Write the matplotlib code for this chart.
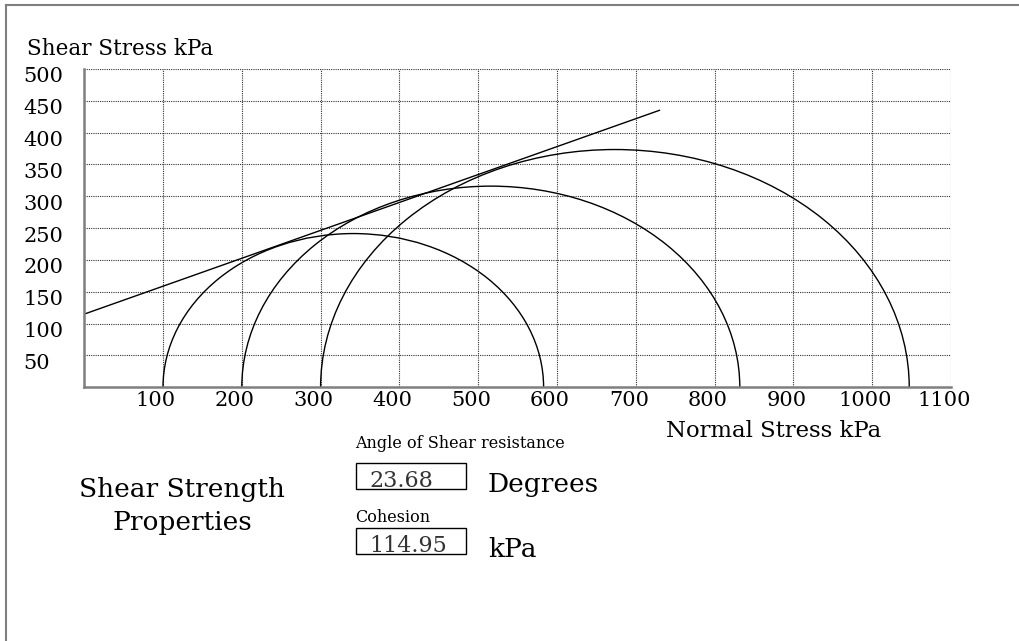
import numpy as np
import matplotlib
matplotlib.use("Agg")
import matplotlib.pyplot as plt
from matplotlib.patches import Arc, Rectangle
from matplotlib.transforms import ScaledTranslation

# Triaxial test results (kPa)
sigma3 = [100, 200, 300]          # confining stress
sigma1 = [583, 832, 1047]         # major principal stress at failure

# Fitted Mohr-Coulomb envelope
phi_deg = 23.68                   # angle of shear resistance
cohesion = 114.95                 # kPa
envelope_end = 730                # normal stress where the envelope line stops

x_ticks = [100, 200, 300, 400, 500, 600, 700, 800, 900, 1000, 1100]
y_ticks = [50, 100, 150, 200, 250, 300, 350, 400, 450, 500]

W, H, DPI = 1020, 641, 100
FONT = "DejaVu Serif"

fig = plt.figure(figsize=(W / DPI, H / DPI), dpi=DPI)
fig.patch.set_facecolor("white")


def px(x, y):
    """Pixel position (from top-left) to figure fraction."""
    return x / W, 1 - y / H


# Plot area
left, right, top, bottom = 84.2, 951.0, 69.0, 387.3
ax = fig.add_axes([left / W, 1 - bottom / H, (right - left) / W, (bottom - top) / H])
ax.set_xlim(0, 1100)
ax.set_ylim(0, 500)

ax.set_xticks(x_ticks)
ax.set_yticks(y_ticks)
ax.set_xticklabels([str(v) for v in x_ticks])
ax.set_yticklabels([str(v) for v in y_ticks])
ax.tick_params(length=0)
ax.tick_params(axis="x", pad=3)
ax.tick_params(axis="y", pad=44)
for lbl in ax.get_xticklabels():
    lbl.set_fontfamily(FONT)
    lbl.set_fontsize(15)
    lbl.set_transform(lbl.get_transform() + ScaledTranslation(-7 / DPI, 0, fig.dpi_scale_trans))
for lbl in ax.get_yticklabels():
    lbl.set_fontfamily(FONT)
    lbl.set_fontsize(15)
    lbl.set_horizontalalignment("left")
    lbl.set_transform(lbl.get_transform() + ScaledTranslation(0, -6 / DPI, fig.dpi_scale_trans))

ax.grid(True, color="#333333", linestyle=(0, (1, 1)), linewidth=0.8)
ax.set_axisbelow(True)
for side in ("top", "right"):
    ax.spines[side].set_visible(False)
for side in ("left", "bottom"):
    ax.spines[side].set_color("#7f7f7f")
    ax.spines[side].set_linewidth(1.8)

# Mohr circles (upper halves)
for s3, s1 in zip(sigma3, sigma1):
    centre = (s1 + s3) / 2
    diam = s1 - s3
    ax.add_patch(Arc((centre, 0), diam, diam, theta1=0, theta2=180,
                     color="black", linewidth=1.0))

# Failure envelope
xs = np.array([0, envelope_end])
ax.plot(xs, cohesion + xs * np.tan(np.radians(phi_deg)), color="black", linewidth=1.0)

# Axis titles
fig.text(*px(27, 55), "Shear Stress kPa", family=FONT, fontsize=15.5, va="baseline", ha="left")
fig.text(*px(666, 437), "Normal Stress kPa", family=FONT, fontsize=16.4, va="baseline", ha="left")

# Properties panel
fig.text(*px(182, 497), "Shear Strength", family=FONT, fontsize=19, va="baseline", ha="center")
fig.text(*px(182, 530), "Properties", family=FONT, fontsize=19, va="baseline", ha="center")

fig.text(*px(355, 448), "Angle of Shear resistance", family=FONT, fontsize=11.5, va="baseline", ha="left")
fig.text(*px(355, 522), "Cohesion", family=FONT, fontsize=11.5, va="baseline", ha="left")

for (bx, by), val, unit in [((356, 463), f"{phi_deg:.2f}", "Degrees"),
                            ((356, 528), f"{cohesion:.2f}", "kPa")]:
    x0, y0 = px(bx, by + 26)
    fig.add_artist(Rectangle((x0, y0), 110 / W, 26 / H, transform=fig.transFigure,
                             fill=False, edgecolor="black", linewidth=1.0))
    fig.text(*px(bx + 13, by + 24), val, family=FONT, fontsize=16, va="baseline", ha="left",
             color="#333333")
    fig.text(*px(bx + 132, by + 29), unit, family=FONT, fontsize=19, va="baseline", ha="left")

# Frame around the panel
fig.add_artist(plt.Line2D([6 / W, 6 / W], [0, 1 - 5 / H], transform=fig.transFigure,
                          color="#7f7f7f", linewidth=1.5))
fig.add_artist(plt.Line2D([6 / W, 1], [1 - 5 / H, 1 - 5 / H], transform=fig.transFigure,
                          color="#7f7f7f", linewidth=1.5))

fig.savefig("out.png", dpi=DPI)
